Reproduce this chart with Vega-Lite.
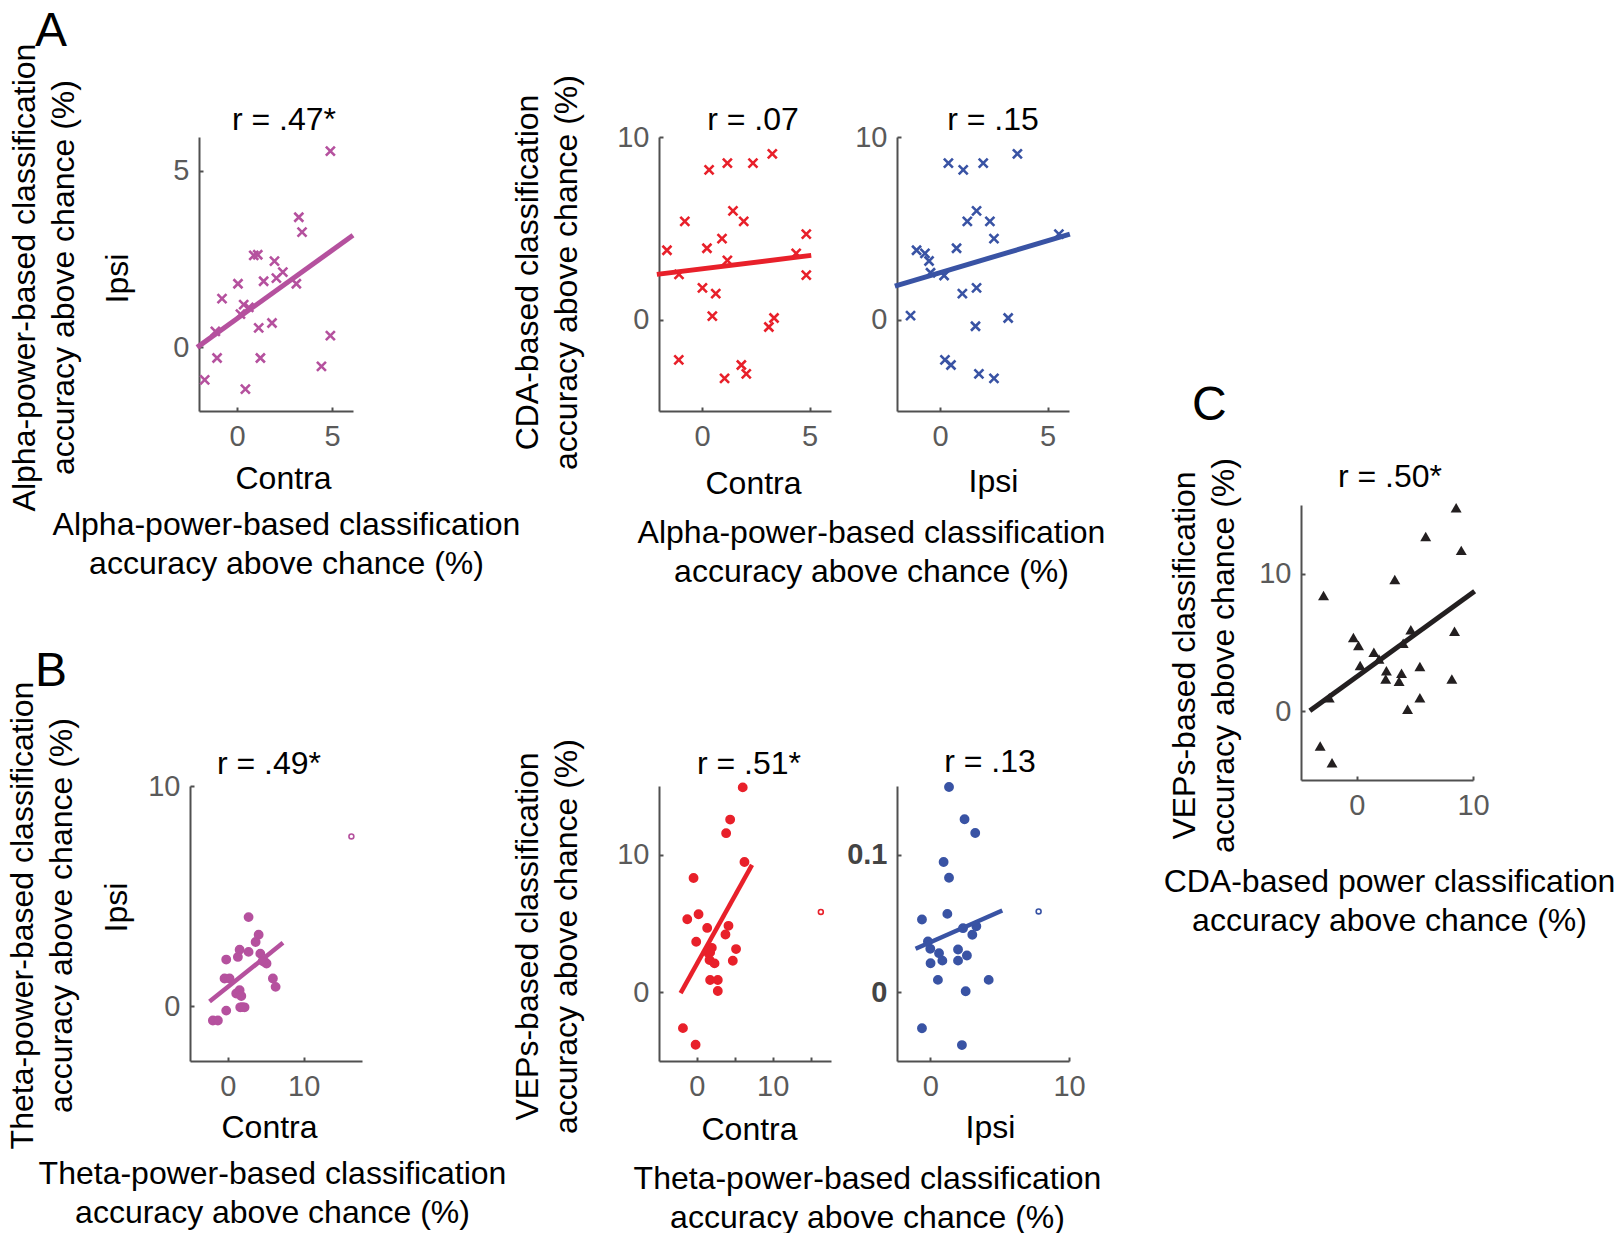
{
"$schema": "https://vega.github.io/schema/vega-lite/v6.json",
"padding": {"left": 5, "top": 8, "right": 0, "bottom": 0},
"background": "white",
"config": {
 "view": {"stroke": null},
 "font": "Liberation Sans",
 "axis": {"grid": false, "domainColor": "#505050", "domainWidth": 2, "tickColor": "#505050", "tickWidth": 2, "tickSize": -4, "labelFontSize": 29, "labelColor": "#5a5a5a", "labelFont": "Liberation Sans", "titleFont": "Liberation Sans", "titleFontSize": 32, "titleFontWeight": "normal", "titleColor": "#000000", "titleBaseline": "alphabetic", "titleAlign": "center", "titleLineHeight": 39, "labelFlush": false, "labelOverlap": false},
 "axisX": {"labelPadding": 15},
 "axisY": {"labelPadding": 14},
 "title": {"fontSize": 32, "fontWeight": "normal", "color": "#000000", "baseline": "alphabetic", "offset": 0, "frame": "group", "font": "Liberation Sans"}
},
"datasets": {
 "a1": [{"x":4.91,"y":5.55},{"x":3.25,"y":3.68},{"x":3.42,"y":3.26},{"x":0.88,"y":2.6},{"x":1.09,"y":2.62},{"x":1.97,"y":2.44},{"x":2.41,"y":2.13},{"x":2.07,"y":1.96},{"x":1.4,"y":1.87},{"x":3.12,"y":1.8},{"x":0.05,"y":1.8},{"x":-0.79,"y":1.38},{"x":0.35,"y":1.21},{"x":0.62,"y":1.13},{"x":0.18,"y":0.94},{"x":1.84,"y":0.69},{"x":1.14,"y":0.55},{"x":-1.14,"y":0.45},{"x":4.91,"y":0.33},{"x":-1.05,"y":-0.3},{"x":1.23,"y":-0.3},{"x":4.44,"y":-0.54},{"x":-1.7,"y":-0.92},{"x":0.44,"y":-1.18}],
 "a1l": [{"x":-2.1,"y":0.0},{"x":6.1,"y":3.17}],
 "a2": [{"x":3.27,"y":9.08},{"x":1.18,"y":8.57},{"x":2.37,"y":8.57},{"x":0.33,"y":8.2},{"x":1.44,"y":5.96},{"x":-0.8,"y":5.38},{"x":1.94,"y":5.38},{"x":4.85,"y":4.68},{"x":0.93,"y":4.44},{"x":0.23,"y":3.91},{"x":-1.63,"y":3.8},{"x":4.38,"y":3.63},{"x":1.18,"y":3.25},{"x":-1.07,"y":2.48},{"x":4.85,"y":2.44},{"x":0.02,"y":1.74},{"x":0.64,"y":1.43},{"x":0.48,"y":0.19},{"x":3.35,"y":0.09},{"x":3.11,"y":-0.4},{"x":-1.08,"y":-2.2},{"x":1.83,"y":-2.48},{"x":2.06,"y":-2.97},{"x":1.05,"y":-3.21}],
 "a2l": [{"x":-2.1,"y":2.48},{"x":5.08,"y":3.52}],
 "a3": [{"x":3.6,"y":9.08},{"x":0.39,"y":8.57},{"x":2.01,"y":8.57},{"x":1.08,"y":8.2},{"x":1.7,"y":5.96},{"x":1.27,"y":5.38},{"x":2.32,"y":5.38},{"x":5.53,"y":4.68},{"x":2.51,"y":4.44},{"x":0.77,"y":3.91},{"x":-1.09,"y":3.8},{"x":-0.7,"y":3.63},{"x":-0.51,"y":3.21},{"x":-0.44,"y":2.57},{"x":0.19,"y":2.42},{"x":1.7,"y":1.74},{"x":1.04,"y":1.43},{"x":-1.37,"y":0.22},{"x":3.17,"y":0.09},{"x":1.65,"y":-0.36},{"x":0.23,"y":-2.2},{"x":0.51,"y":-2.48},{"x":1.81,"y":-2.97},{"x":2.51,"y":-3.21}],
 "a3l": [{"x":-2.1,"y":1.84},{"x":6.04,"y":4.68}],
 "b1": [{"x":16.3,"y":7.71,"o":true},{"x":2.73,"y":4.04,"o":false},{"x":4.06,"y":3.24,"o":false},{"x":3.66,"y":2.91,"o":false},{"x":1.55,"y":2.56,"o":false},{"x":2.73,"y":2.46,"o":false},{"x":1.32,"y":2.23,"o":false},{"x":4.28,"y":2.38,"o":false},{"x":4.85,"y":2.0,"o":false},{"x":5.1,"y":1.93,"o":false},{"x":-0.22,"y":2.11,"o":false},{"x":-0.44,"y":1.25,"o":false},{"x":0.22,"y":1.25,"o":false},{"x":5.94,"y":1.25,"o":false},{"x":6.3,"y":0.87,"o":false},{"x":1.55,"y":0.72,"o":false},{"x":1.1,"y":0.57,"o":false},{"x":1.77,"y":0.45,"o":false},{"x":1.63,"y":-0.06,"o":false},{"x":2.2,"y":-0.06,"o":false},{"x":-0.22,"y":-0.21,"o":false},{"x":-1.98,"y":-0.66,"o":false},{"x":-1.32,"y":-0.66,"o":false},{"x":4.6,"y":2.05,"o":false},{"x":1.9,"y":-0.05,"o":false}],
 "b1l": [{"x":-2.42,"y":0.2},{"x":7.27,"y":2.87}],
 "b2": [{"x":16.36,"y":5.84,"o":true},{"x":6.05,"y":14.9,"o":false},{"x":4.39,"y":12.56,"o":false},{"x":3.86,"y":11.57,"o":false},{"x":6.28,"y":9.47,"o":false},{"x":-0.44,"y":8.31,"o":false},{"x":0.22,"y":5.67,"o":false},{"x":-1.27,"y":5.31,"o":false},{"x":1.36,"y":4.68,"o":false},{"x":4.17,"y":4.83,"o":false},{"x":3.77,"y":4.2,"o":false},{"x":-0.09,"y":3.67,"o":false},{"x":1.97,"y":3.23,"o":false},{"x":5.17,"y":3.14,"o":false},{"x":1.54,"y":2.83,"o":false},{"x":1.67,"y":2.34,"o":false},{"x":2.33,"y":2.1,"o":false},{"x":4.74,"y":2.29,"o":false},{"x":1.75,"y":0.89,"o":false},{"x":2.76,"y":0.89,"o":false},{"x":2.76,"y":0.09,"o":false},{"x":-1.84,"y":-2.61,"o":false},{"x":-0.17,"y":-3.82,"o":false},{"x":1.75,"y":2.9,"o":false}],
 "b2l": [{"x":-2.15,"y":-0.07},{"x":7.28,"y":9.27}],
 "b3": [{"x":7.81,"y":0.0588,"o":true},{"x":1.35,"y":0.1493,"o":false},{"x":2.47,"y":0.1258,"o":false},{"x":3.24,"y":0.1158,"o":false},{"x":0.96,"y":0.0947,"o":false},{"x":1.35,"y":0.0833,"o":false},{"x":1.23,"y":0.057,"o":false},{"x":-0.6,"y":0.0529,"o":false},{"x":2.36,"y":0.0466,"o":false},{"x":3.32,"y":0.048,"o":false},{"x":3.03,"y":0.0418,"o":false},{"x":-0.17,"y":0.0369,"o":false},{"x":0.0,"y":0.0316,"o":false},{"x":0.63,"y":0.0284,"o":false},{"x":2.0,"y":0.0311,"o":false},{"x":2.64,"y":0.0267,"o":false},{"x":0.87,"y":0.023,"o":false},{"x":2.0,"y":0.023,"o":false},{"x":0.02,"y":0.0211,"o":false},{"x":0.55,"y":0.009,"o":false},{"x":4.21,"y":0.009,"o":false},{"x":2.55,"y":0.0007,"o":false},{"x":-0.6,"y":-0.0262,"o":false},{"x":2.28,"y":-0.0384,"o":false}],
 "b3l": [{"x":-1.06,"y":0.0316},{"x":5.19,"y":0.0595}],
 "c": [{"x":8.55,"y":14.8},{"x":5.93,"y":12.71},{"x":8.99,"y":11.7},{"x":3.27,"y":9.58},{"x":-2.86,"y":8.41},{"x":8.41,"y":5.81},{"x":4.65,"y":5.93},{"x":-0.29,"y":5.37},{"x":0.15,"y":4.78},{"x":3.99,"y":4.95},{"x":1.47,"y":4.29},{"x":1.91,"y":3.8},{"x":0.29,"y":3.32},{"x":5.43,"y":3.25},{"x":2.55,"y":2.95},{"x":3.85,"y":2.76},{"x":2.49,"y":2.34},{"x":3.64,"y":2.19},{"x":8.18,"y":2.34},{"x":-2.37,"y":0.98},{"x":5.43,"y":0.98},{"x":4.37,"y":0.15},{"x":-3.15,"y":-2.53},{"x":-2.13,"y":-3.75}],
 "cl": [{"x":-4.04,"y":0.03},{"x":10.14,"y":8.73}]
},
"columns": 7,
"spacing": 0,
"bounds": "flush",
"align": "each",
"center": true,
"concat": [
 {"width":172,"height":10,"data":{"values":[]},"mark":"point","title":{"text":"r = .47*","anchor":"middle","dx":8,"dy":14}},
 {"width":297,"height":10,"data":{"values":[]},"mark":"point","title":{"text":"A","anchor":"start","dx":-327,"dy":-67,"fontSize":48}},
 {"width":172,"height":10,"data":{"values":[]},"mark":"point","title":{"text":"r = .07","anchor":"middle","dx":8,"dy":14}},
 {"width":66,"height":10,"data":{"values":[]},"mark":"point"},
 {"width":172,"height":10,"data":{"values":[]},"mark":"point","title":{"text":"r = .15","anchor":"middle","dx":10,"dy":14}},
 {"width":232,"height":10,"data":{"values":[]},"mark":"point"},
 {"width":172,"height":10,"data":{"values":[]},"mark":"point"},

 {"width":154,"height":274,
  "layer":[
   {"data":{"name":"a1"},"mark":{"type":"point","shape":"M-1,-1L1,1M-1,1L1,-1","filled":false,"size":81,"strokeWidth":2.6,"color":"#B5519E","opacity":1},
    "encoding":{
     "x":{"field":"x","type":"quantitative","scale":{"domain":[-2,6.1],"nice":false,"zero":false},"axis":{"values":[0,5],"title":"Contra","titleX":84,"titleY":77}},
     "y":{"field":"y","type":"quantitative","scale":{"domain":[-1.8,5.95],"nice":false,"zero":false},"axis":{"values":[0,5],"title":"Ipsi","titleX":-72,"titleY":141}}}},
   {"data":{"name":"a1l"},"mark":{"type":"line","color":"#B5519E","strokeWidth":5},
    "encoding":{
     "x":{"field":"x","type":"quantitative","scale":{"domain":[-2,6.1],"nice":false,"zero":false},"axis":{"orient":"bottom","domain":false,"ticks":false,"labels":false,"title":["Alpha-power-based classification","accuracy above chance (%)"],"titleX":87,"titleY":123}},
     "y":{"field":"y","type":"quantitative","scale":{"domain":[-1.8,5.95],"nice":false,"zero":false},"axis":{"orient":"left","domain":false,"ticks":false,"labels":false,"title":["Alpha-power-based classification","accuracy above chance (%)"],"titleX":-165,"titleY":140}}}}
  ],
  "resolve":{"scale":{"x":"independent","y":"independent"}}},
 {"width":297,"height":274,"data":{"values":[]},"mark":"point"},
 {"width":172,"height":274,
  "layer":[
   {"data":{"name":"a2"},"mark":{"type":"point","shape":"M-1,-1L1,1M-1,1L1,-1","filled":false,"size":81,"strokeWidth":2.6,"color":"#E8202A","opacity":1},
    "encoding":{
     "x":{"field":"x","type":"quantitative","scale":{"domain":[-2,6],"nice":false,"zero":false},"axis":{"values":[0,5],"title":"Contra","titleX":94,"titleY":82}},
     "y":{"field":"y","type":"quantitative","scale":{"domain":[-5,10],"nice":false,"zero":false},"axis":{"values":[0,10],"title":null}}}},
   {"data":{"name":"a2l"},"mark":{"type":"line","color":"#E8202A","strokeWidth":5},
    "encoding":{
     "x":{"field":"x","type":"quantitative","scale":{"domain":[-2,6],"nice":false,"zero":false},"axis":{"orient":"bottom","domain":false,"ticks":false,"labels":false,"title":["Alpha-power-based classification","accuracy above chance (%)"],"titleX":212,"titleY":131}},
     "y":{"field":"y","type":"quantitative","scale":{"domain":[-5,10],"nice":false,"zero":false},"axis":{"orient":"left","domain":false,"ticks":false,"labels":false,"title":["CDA-based classification","accuracy above chance (%)"],"titleX":-122,"titleY":135}}}}
  ],
  "resolve":{"scale":{"x":"independent","y":"independent"}}},
 {"width":66,"height":274,"data":{"values":[]},"mark":"point"},
 {"width":172,"height":274,
  "layer":[
   {"data":{"name":"a3"},"mark":{"type":"point","shape":"M-1,-1L1,1M-1,1L1,-1","filled":false,"size":81,"strokeWidth":2.6,"color":"#3953A4","opacity":1},
    "encoding":{
     "x":{"field":"x","type":"quantitative","scale":{"domain":[-2,6],"nice":false,"zero":false},"axis":{"values":[0,5],"title":"Ipsi","titleX":96,"titleY":80}},
     "y":{"field":"y","type":"quantitative","scale":{"domain":[-5,10],"nice":false,"zero":false},"axis":{"values":[0,10],"title":null}}}},
   {"data":{"name":"a3l"},"mark":{"type":"line","color":"#3953A4","strokeWidth":5},
    "encoding":{
     "x":{"field":"x","type":"quantitative","scale":{"domain":[-2,6],"nice":false,"zero":false},"axis":null},
     "y":{"field":"y","type":"quantitative","scale":{"domain":[-5,10],"nice":false,"zero":false},"axis":null}}}
  ],
  "resolve":{"scale":{"x":"independent","y":"independent"}}},
 {"width":232,"height":274,"data":{"values":[]},"mark":"point"},
 {"width":172,"height":274,"data":{"values":[]},"mark":"point"},

 {"width":172,"height":84,"data":{"values":[]},"mark":"point"},
 {"width":297,"height":84,"data":{"values":[]},"mark":"point"},
 {"width":172,"height":84,"data":{"values":[]},"mark":"point"},
 {"width":66,"height":84,"data":{"values":[]},"mark":"point"},
 {"width":172,"height":84,"data":{"values":[]},"mark":"point"},
 {"width":232,"height":84,"data":{"values":[]},"mark":"point"},
 {"width":172,"height":84,"data":{"values":[]},"mark":"point","title":{"text":"C","anchor":"start","dx":-109,"dy":23,"fontSize":48}},

 {"width":172,"height":10,"data":{"values":[]},"mark":"point"},
 {"width":297,"height":10,"data":{"values":[]},"mark":"point"},
 {"width":172,"height":10,"data":{"values":[]},"mark":"point"},
 {"width":66,"height":10,"data":{"values":[]},"mark":"point"},
 {"width":172,"height":10,"data":{"values":[]},"mark":"point"},
 {"width":232,"height":10,"data":{"values":[]},"mark":"point"},
 {"width":172,"height":10,"data":{"values":[]},"mark":"point","title":{"text":"r = .50*","anchor":"middle","dx":3,"dy":3}},

 {"width":172,"height":275,"data":{"values":[]},"mark":"point"},
 {"width":297,"height":275,"data":{"values":[]},"mark":"point"},
 {"width":172,"height":275,"data":{"values":[]},"mark":"point"},
 {"width":66,"height":275,"data":{"values":[]},"mark":"point"},
 {"width":172,"height":275,"data":{"values":[]},"mark":"point"},
 {"width":232,"height":275,"data":{"values":[]},"mark":"point"},
 {"width":172,"height":275,
  "layer":[
   {"data":{"name":"c"},"mark":{"type":"point","shape":"triangle-up","filled":true,"size":120,"color":"#231F20","opacity":1},
    "encoding":{
     "x":{"field":"x","type":"quantitative","scale":{"domain":[-4.8,10],"nice":false,"zero":false},"axis":{"values":[0,10],"title":null}},
     "y":{"field":"y","type":"quantitative","scale":{"domain":[-5,15],"nice":false,"zero":false},"axis":{"values":[0,10],"title":null}}}},
   {"data":{"name":"cl"},"mark":{"type":"line","color":"#231F20","strokeWidth":5},
    "encoding":{
     "x":{"field":"x","type":"quantitative","scale":{"domain":[-4.8,10],"nice":false,"zero":false},"axis":{"orient":"bottom","domain":false,"ticks":false,"labels":false,"title":["CDA-based power classification","accuracy above chance (%)"],"titleX":88,"titleY":111}},
     "y":{"field":"y","type":"quantitative","scale":{"domain":[-5,15],"nice":false,"zero":false},"axis":{"orient":"left","domain":false,"ticks":false,"labels":false,"title":["VEPs-based classification","accuracy above chance (%)"],"titleX":-107,"titleY":150}}}}
  ],
  "resolve":{"scale":{"x":"independent","y":"independent"}}},

 {"width":172,"height":6,"data":{"values":[]},"mark":"point","title":{"text":"r = .49*","anchor":"middle","dx":-7,"dy":5}},
 {"width":297,"height":6,"data":{"values":[]},"mark":"point","title":{"text":"B","anchor":"start","dx":-327,"dy":-80,"fontSize":48}},
 {"width":172,"height":6,"data":{"values":[]},"mark":"point","title":{"text":"r = .51*","anchor":"middle","dx":4,"dy":5}},
 {"width":66,"height":6,"data":{"values":[]},"mark":"point"},
 {"width":172,"height":6,"data":{"values":[]},"mark":"point","title":{"text":"r = .13","anchor":"middle","dx":7,"dy":3}},
 {"width":232,"height":6,"data":{"values":[]},"mark":"point"},
 {"width":172,"height":6,"data":{"values":[]},"mark":"point"},

 {"width":172,"height":275,
  "layer":[
   {"data":{"name":"b1"},"mark":{"type":"point","shape":"circle","filled":true,"strokeWidth":1.6,"opacity":1,"stroke":"#B5519E"},
    "encoding":{
     "x":{"field":"x","type":"quantitative","scale":{"domain":[-5,17.7],"nice":false,"zero":false},"axis":{"values":[0,10],"title":"Contra","titleX":79,"titleY":76}},
     "y":{"field":"y","type":"quantitative","scale":{"domain":[-2.5,10],"nice":false,"zero":false},"axis":{"values":[0,10],"title":"Ipsi","titleX":-64,"titleY":121}},
     "fill":{"condition":{"test":"datum.o","value":"#ffffff"},"value":"#B5519E"},
     "size":{"condition":{"test":"datum.o","value":24},"value":68}}},
   {"data":{"name":"b1l"},"mark":{"type":"line","color":"#B5519E","strokeWidth":4.5},
    "encoding":{
     "x":{"field":"x","type":"quantitative","scale":{"domain":[-5,17.7],"nice":false,"zero":false},"axis":{"orient":"bottom","domain":false,"ticks":false,"labels":false,"title":["Theta-power-based classification","accuracy above chance (%)"],"titleX":82,"titleY":122}},
     "y":{"field":"y","type":"quantitative","scale":{"domain":[-2.5,10],"nice":false,"zero":false},"axis":{"orient":"left","domain":false,"ticks":false,"labels":false,"title":["Theta-power-based classification","accuracy above chance (%)"],"titleX":-158,"titleY":129}}}}
  ],
  "resolve":{"scale":{"x":"independent","y":"independent"}}},
 {"width":297,"height":275,"data":{"values":[]},"mark":"point"},
 {"width":172,"height":275,
  "layer":[
   {"data":{"name":"b2"},"mark":{"type":"point","shape":"circle","filled":true,"strokeWidth":1.6,"opacity":1,"stroke":"#E8202A"},
    "encoding":{
     "x":{"field":"x","type":"quantitative","scale":{"domain":[-5,17.7],"nice":false,"zero":false},"axis":{"values":[0,5,10,15],"labelExpr":"datum.value == 0 || datum.value == 10 ? datum.label : ''","title":"Contra","titleX":90,"titleY":78}},
     "y":{"field":"y","type":"quantitative","scale":{"domain":[-5,15],"nice":false,"zero":false},"axis":{"values":[0,10],"title":null}},
     "fill":{"condition":{"test":"datum.o","value":"#ffffff"},"value":"#E8202A"},
     "size":{"condition":{"test":"datum.o","value":24},"value":68}}},
   {"data":{"name":"b2l"},"mark":{"type":"line","color":"#E8202A","strokeWidth":4.5},
    "encoding":{
     "x":{"field":"x","type":"quantitative","scale":{"domain":[-5,17.7],"nice":false,"zero":false},"axis":{"orient":"bottom","domain":false,"ticks":false,"labels":false,"title":["Theta-power-based classification","accuracy above chance (%)"],"titleX":208,"titleY":127}},
     "y":{"field":"y","type":"quantitative","scale":{"domain":[-5,15],"nice":false,"zero":false},"axis":{"orient":"left","domain":false,"ticks":false,"labels":false,"title":["VEPs-based classification","accuracy above chance (%)"],"titleX":-122,"titleY":150}}}}
  ],
  "resolve":{"scale":{"x":"independent","y":"independent"}}},
 {"width":66,"height":275,"data":{"values":[]},"mark":"point"},
 {"width":172,"height":275,
  "layer":[
   {"data":{"name":"b3"},"mark":{"type":"point","shape":"circle","filled":true,"strokeWidth":1.6,"opacity":1,"stroke":"#3953A4"},
    "encoding":{
     "x":{"field":"x","type":"quantitative","scale":{"domain":[-2.4,10],"nice":false,"zero":false},"axis":{"values":[0,10],"title":"Ipsi","titleX":93,"titleY":76}},
     "y":{"field":"y","type":"quantitative","scale":{"domain":[-0.05,0.15],"nice":false,"zero":false},"axis":{"values":[0,0.1],"format":"~g","labelFontWeight":"bold","labelColor":"#444444","title":null}},
     "fill":{"condition":{"test":"datum.o","value":"#ffffff"},"value":"#3953A4"},
     "size":{"condition":{"test":"datum.o","value":24},"value":68}}},
   {"data":{"name":"b3l"},"mark":{"type":"line","color":"#3953A4","strokeWidth":4.5},
    "encoding":{
     "x":{"field":"x","type":"quantitative","scale":{"domain":[-2.4,10],"nice":false,"zero":false},"axis":null},
     "y":{"field":"y","type":"quantitative","scale":{"domain":[-0.05,0.15],"nice":false,"zero":false},"axis":null}}}
  ],
  "resolve":{"scale":{"x":"independent","y":"independent"}}},
 {"width":232,"height":275,"data":{"values":[]},"mark":"point"},
 {"width":172,"height":275,"data":{"values":[]},"mark":"point"}
]
}
